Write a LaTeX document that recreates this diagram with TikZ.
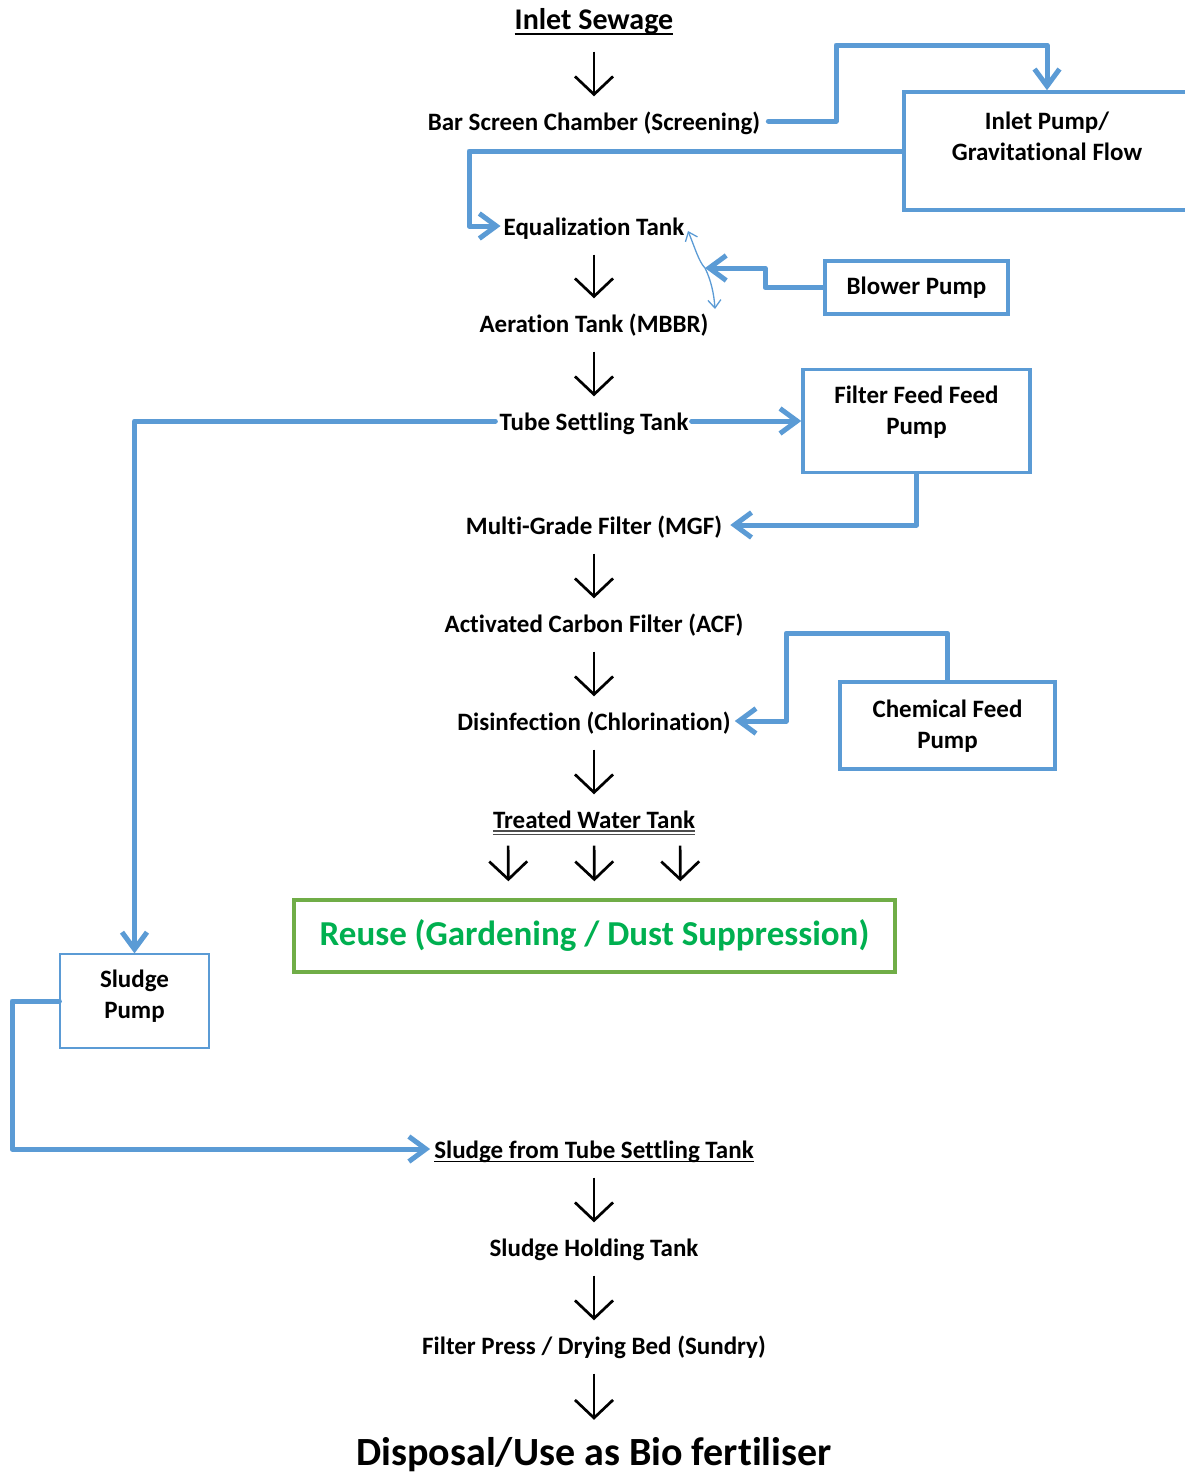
\documentclass[tikz,border=0pt]{standalone}
\usepackage{fontspec}
\setmainfont{Carlito}[Ligatures=NoCommon]
\usetikzlibrary{arrows.meta}
\definecolor{blu}{RGB}{91,155,213}
\definecolor{grn}{RGB}{0,176,80}
\definecolor{olv}{RGB}{112,173,71}
\begin{document}
\begin{tikzpicture}[x=1pt,y=-1pt,
  lbl/.style={font=\fontsize{25}{30}\selectfont\bfseries, inner sep=0pt, text height=20.5pt, text depth=2.5pt},
  big/.style={font=\fontsize{30}{36}\selectfont\bfseries, inner sep=0pt, text height=24pt, text depth=5pt},
  huge/.style={font=\fontsize{40}{48}\selectfont\bfseries, inner sep=0pt, text height=32pt, text depth=6pt},
  pbox/.style={draw=blu, line width=3.5pt, inner sep=0pt},
  btxt/.style={font=\fontsize{25}{31}\selectfont\bfseries, inner sep=0pt, align=center},
  blk/.style={draw=black, line width=2.7pt, -{Straight Barb[length=18pt,width=38pt]}, shorten <=17pt, shorten >=13pt},
  bl/.style={draw=blu, line width=5pt, line join=round, line cap=round},
  bla/.style={bl, -{Straight Barb[length=17pt,width=25pt]}},
  thinarr/.style={draw=blu, line width=1.3pt, {Straight Barb[length=8pt,width=13pt]}-{Straight Barb[length=8pt,width=13pt]}},
  ulin/.style={draw=black, line width=2pt},
  dulin/.style={draw=black!70, line width=1.2pt}
]
\useasboundingbox (0,0) rectangle (1185,1473);

% main chain labels
\node[big] (inlet) at (594,20) {Inlet Sewage};
\node[lbl] (bar) at (594,121) {Bar Screen Chamber (Screening)};
\node[lbl] (eq) at (594,226) {Equalization Tank};
\node[lbl] (aer) at (594,323) {Aeration Tank (MBBR)};
\node[lbl] (tube) at (594,421) {Tube Settling Tank};
\node[lbl] (mgf) at (594,525) {Multi-Grade Filter (MGF)};
\node[lbl] (acf) at (594,623) {Activated Carbon Filter (ACF)};
\node[lbl] (dis) at (594,721) {Disinfection (Chlorination)};
\node[lbl] (twt) at (594,819) {Treated Water Tank};
\node[lbl] (sft) at (594,1149) {Sludge from Tube Settling Tank};
\node[lbl] (sht) at (594,1247) {Sludge Holding Tank};
\node[lbl] (fpd) at (594,1345) {Filter Press / Drying Bed (Sundry)};
\node[huge] (disp) at (594,1452) {Disposal/Use as Bio fertiliser};

% underlines
\draw[ulin] ([yshift=-4pt]inlet.base west) -- ([yshift=-4pt]inlet.base east);
\draw[dulin] ([yshift=-3pt]twt.base west) -- ([yshift=-3pt]twt.base east);
\draw[dulin] ([yshift=-6.3pt]twt.base west) -- ([yshift=-6.3pt]twt.base east);
\draw[draw=black, line width=1.7pt] ([yshift=-3.5pt]sft.base west) -- ([yshift=-3.5pt]sft.base east);

% boxes
\node[pbox, minimum width=286pt, minimum height=118pt] (ipb) at (1047,151) {};
\node[btxt] (ipt) at (1047,136) {Inlet Pump/\\Gravitational Flow};
\node[pbox, minimum width=183pt, minimum height=53pt] (blw) at (916.5,287.5) {};
\node[btxt] (blwt) at (916.5,288) {Blower Pump};
\node[pbox, minimum width=227pt, minimum height=103pt] (ffb) at (916.5,421) {};
\node[btxt] (fft) at (916.5,412) {Filter Feed Feed\\Pump};
\node[pbox, minimum width=215pt, minimum height=87pt] (cfb) at (947.5,725.5) {};
\node[btxt] (cft) at (947.5,726) {Chemical Feed\\Pump};
\node[draw=blu, line width=1.2pt, inner sep=0pt, minimum width=149pt, minimum height=94pt] (sp) at (134.5,1001) {};
\node[btxt] (spt) at (134.5,996) {Sludge\\Pump};
\node[draw=olv, line width=3.5pt, inner sep=0pt, minimum width=601pt, minimum height=72pt] (reuse) at (594.5,936) {};
\node[font=\fontsize{35}{42}\selectfont\bfseries, text=grn, inner sep=0pt] (reuset) at (594.5,935) {Reuse (Gardening / Dust Suppression)};

% black flow arrows
\draw[blk] (inlet) -- (bar);
\draw[blk] (eq) -- (aer);
\draw[blk] (aer) -- (tube);
\draw[blk] (mgf) -- (acf);
\draw[blk] (acf) -- (dis);
\draw[blk] (dis) -- (twt);
\foreach \dx in {-86,0,86}
  \draw[blk, shorten <=15pt, shorten >=17pt] ([xshift=\dx pt]twt.south) -- ([xshift=\dx pt]reuse.north);
\draw[blk] (sft) -- (sht);
\draw[blk] (sht) -- (fpd);
\draw[blk] (fpd) -- (disp);

% blue connectors
\draw[bla] ([xshift=8pt]bar.east) -| (836,45) -| (ipb.north);
\draw[bla] (ipb.west) -| (469,226) -- ([xshift=-3pt]eq.west);
\coordinate (airT) at (688,231);
\coordinate (air) at (705,268);
\coordinate (airB) at (715,309);
\draw[bla] (blw.west) -- (765,287.5) -- (765,268) -- (air);
\draw[thinarr] (airT) .. controls (695,248) and (699,262) .. (air) .. controls (711,280) and (714,294) .. (airB);
\draw[bla] ([xshift=-4pt]tube.west) -| (sp.north);
\draw[bla] ([xshift=3pt]tube.east) -- (ffb.west);
\draw[bla] (ffb.south) |- ([xshift=8pt]mgf.east);
\draw[bla] (cfb.north) -- ++(0,-47) -| (786,721) -- ([xshift=4pt]dis.east);
\draw[bla] (sp.west) -| (12,1149) -- ([xshift=-4pt]sft.west);
\end{tikzpicture}
\end{document}
